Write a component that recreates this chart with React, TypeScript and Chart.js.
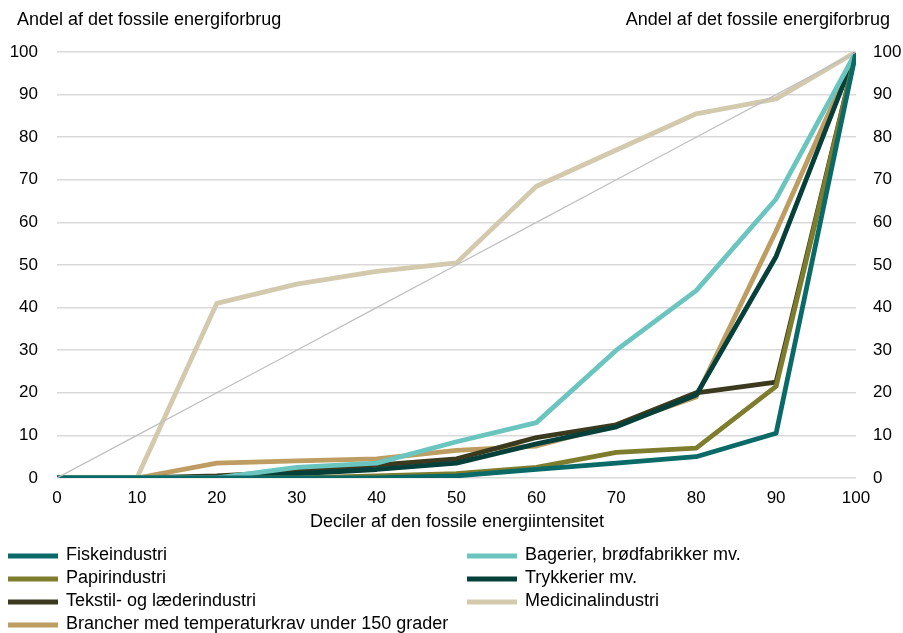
import React, { useEffect, useRef } from "react";
import { Chart, registerables } from "chart.js";
Chart.register(...registerables);

const deciles = [0, 10, 20, 30, 40, 50, 60, 70, 80, 90, 100];
const fiskeindustri = [0, 0, 0, 0, 0, 0.5, 2, 3.5, 5, 10.5, 100];
const bagerier = [0, 0, 0, 2.5, 3.5, 8.5, 13, 30, 44, 65.5, 100];
const papirindustri = [0, 0, 0, 0, 0.5, 1, 2.5, 6, 7, 21.5, 100];
const trykkerier = [0, 0, 0, 1, 2, 3.5, 8, 12, 19.5, 52, 100];
const tekstil = [0, 0, 0.5, 1.5, 3, 4.5, 9.5, 12.5, 20, 22.5, 100];
const medicinal = [0, 0, 41, 45.5, 48.5, 50.5, 68.5, 77, 85.5, 89, 100];
const brancher = [0, 0, 3.5, 4, 4.5, 6.5, 7.5, 12.5, 19, 58, 100];
const diagonal = [0, 10, 20, 30, 40, 50, 60, 70, 80, 90, 100];

const seriesNames = [
  "Fiskeindustri",
  "Bagerier, brødfabrikker mv.",
  "Papirindustri",
  "Trykkerier mv.",
  "Tekstil- og læderindustri",
  "Medicinalindustri",
  "Brancher med temperaturkrav under 150 grader",
];
const seriesValues = [fiskeindustri, bagerier, papirindustri, trykkerier, tekstil, medicinal, brancher];
const seriesColors = ["#0A6A68", "#6BC5BF", "#7E7C2D", "#06403B", "#3B3A1E", "#D3CAAE", "#BD9D62"];

const yTitle = "Andel af det fossile energiforbrug";
const xTitle = "Deciler af den fossile energiintensitet";
const FONT = '"Liberation Sans", Arial, sans-serif';

export default function App() {
  const ref = useRef<HTMLCanvasElement>(null);
  useEffect(() => {
    if (!ref.current) return;
    const overlay = {
      id: "overlay",
      afterDraw(chart: any) {
        const ctx = chart.ctx;
        ctx.save();
        ctx.fillStyle = "#000";
        ctx.font = `18px ${FONT}`;
        ctx.textBaseline = "middle";
        ctx.textAlign = "left";
        ctx.fillText(yTitle, 17, 20);
        ctx.textAlign = "right";
        ctx.fillText(yTitle, 890, 20);
        ctx.textAlign = "center";
        ctx.fillText(xTitle, 457, 522);
        // legend: two columns, row-wise order
        ctx.font = `18px ${FONT}`;
        ctx.textAlign = "left";
        const colX = [8, 467];
        const rowY = [555, 578, 601, 624];
        seriesNames.forEach((name, i) => {
          const col = i % 2;
          const row = Math.floor(i / 2);
          const x = colX[col];
          const y = rowY[row];
          ctx.strokeStyle = seriesColors[i];
          ctx.lineWidth = 5;
          ctx.beginPath();
          ctx.moveTo(x, y + 1);
          ctx.lineTo(x + 50, y + 1);
          ctx.stroke();
          ctx.fillStyle = "#000";
          ctx.fillText(name, x + 58, y);
        });
        ctx.restore();
      },
    };
    const datasets: any[] = [
      {
        label: "diagonal",
        data: deciles.map((d, i) => ({ x: d, y: diagonal[i] })),
        borderColor: "#BFBFBF",
        borderWidth: 1.2,
        pointRadius: 0,
        tension: 0,
      },
      ...seriesNames.map((name, i) => ({
        label: name,
        data: deciles.map((d, j) => ({ x: d, y: seriesValues[i][j] })),
        borderColor: seriesColors[i],
        backgroundColor: seriesColors[i],
        borderWidth: 4.8,
        pointRadius: 0,
        tension: 0,
        borderJoinStyle: "round",
        borderCapStyle: "round",
      })),
    ];
    const tickFont = { family: FONT, size: 17 };
    const chart = new Chart(ref.current, {
      type: "line",
      data: { datasets },
      plugins: [overlay],
      options: {
        animation: false,
        responsive: false,
        devicePixelRatio: 1,
        layout: { padding: { top: 52, left: 0, right: 0, bottom: 0 } },
        plugins: { legend: { display: false }, tooltip: { enabled: false } },
        scales: {
          x: {
            type: "linear",
            min: 0,
            max: 100,
            grid: { display: false, drawTicks: false },
            border: { display: false },
            ticks: { stepSize: 10, color: "#000", font: tickFont, padding: 10, maxRotation: 0 },
            afterFit: (s: any) => {
              s.height = 155;
            },
          },
          y: {
            position: "left",
            min: 0,
            max: 100,
            grid: { color: "#D9D9D9", lineWidth: 1.5, drawTicks: false },
            border: { display: false },
            ticks: { stepSize: 10, color: "#000", font: tickFont, padding: 19 },
            afterFit: (s: any) => {
              s.width = 57;
            },
          },
          y2: {
            position: "right",
            min: 0,
            max: 100,
            grid: { display: false, drawTicks: false },
            border: { display: false },
            ticks: { stepSize: 10, color: "#000", font: tickFont, padding: 17 },
            afterFit: (s: any) => {
              s.width = 47;
            },
          },
        },
      },
    } as any);
    return () => chart.destroy();
  }, []);
  return (
    <div style={{ position: "fixed", left: 0, top: 0, width: 903, height: 633, background: "#fff" }}>
      <canvas ref={ref} width={903} height={633} style={{ width: 903, height: 633 }} />
    </div>
  );
}
